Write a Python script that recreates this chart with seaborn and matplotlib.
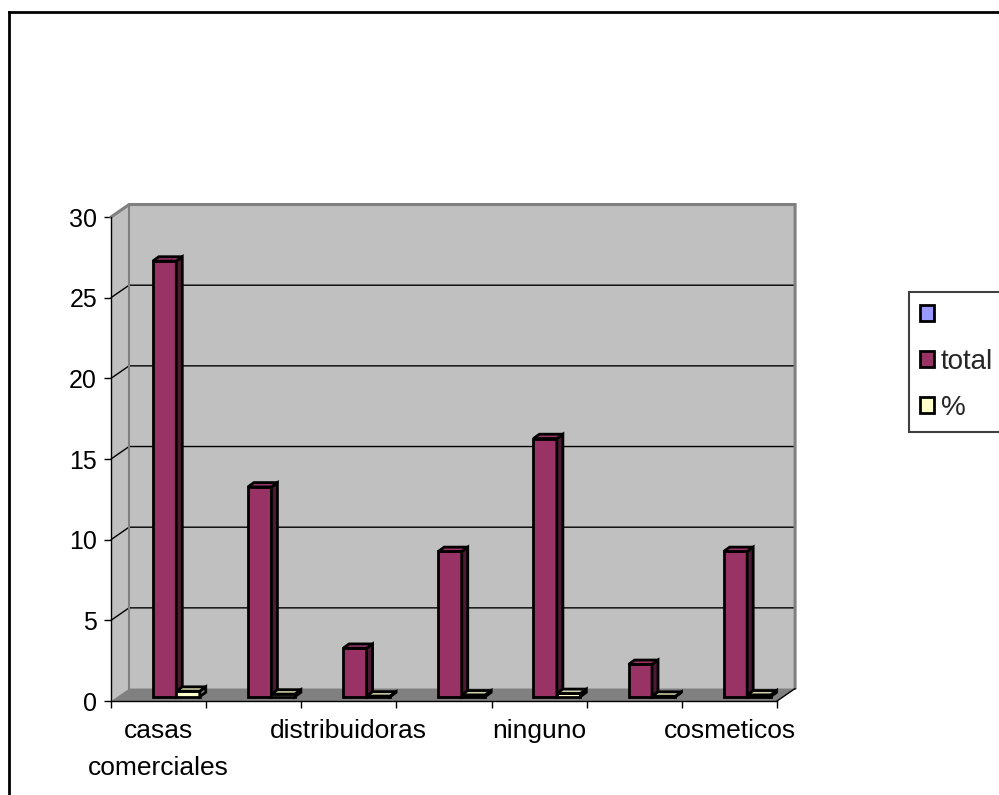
import matplotlib
matplotlib.use("Agg")
import matplotlib.pyplot as plt
import seaborn as sns
import pandas as pd
from matplotlib.patches import Polygon, Patch
from matplotlib.lines import Line2D
from matplotlib.colors import to_hex

# ---- data -------------------------------------------------------------
tick_labels = ["casas\ncomerciales", "", "distribuidoras", "", "ninguno", "", "cosmeticos"]
totals = [27, 13, 3, 9, 16, 2, 9]
percentages = [0.34, 0.16, 0.04, 0.11, 0.20, 0.03, 0.11]
series = ["", "total", "%"]
series_colors = ["#9999FF", "#993366", "#FFFFCC"]
y_ticks = [0, 5, 10, 15, 20, 25, 30]

cat_ids = list(range(len(tick_labels)))
df = pd.DataFrame({
    "cat": cat_ids * 2,
    "serie": ["total"] * len(totals) + ["%"] * len(percentages),
    "valor": totals + percentages,
})

# ---- style ------------------------------------------------------------
sns.set_theme(style="white")
plt.rcParams["font.family"] = ["Liberation Sans", "DejaVu Sans"]

fig = plt.figure(figsize=(9.99, 7.95), dpi=100)
fig.patch.set_facecolor("white")
ax = fig.add_axes([0.1111, 0.1182, 0.6667, 0.6088])

palette = dict(zip(series, series_colors))
sns.barplot(data=df, x="cat", y="valor", hue="serie", hue_order=series,
            order=cat_ids, palette=palette, width=0.74, saturation=1,
            errorbar=None, edgecolor="black", linewidth=2, legend=False, ax=ax)

ax.set_xlim(-0.5, len(cat_ids) - 0.5)
ax.set_ylim(0, 30)
ax.set_facecolor("none")
ax.set_xlabel("")
ax.set_ylabel("")

# ---- 3D box: walls and floor --------------------------------------------
wdx, wdy = 0.19, 0.775          # depth of the box (data units)
xl, xr = -0.5, len(cat_ids) - 0.5
wall_c, floor_c, edge_c = "#C0C0C0", "#808080", "#808080"

back = Polygon([(xl + wdx, wdy), (xr + wdx, wdy), (xr + wdx, 30 + wdy), (xl + wdx, 30 + wdy)],
               closed=True, facecolor=wall_c, edgecolor="none", zorder=0.5, clip_on=False)
side = Polygon([(xl, 0), (xl + wdx, wdy), (xl + wdx, 30 + wdy), (xl, 30)],
               closed=True, facecolor=wall_c, edgecolor="none", zorder=0.5, clip_on=False)
floor = Polygon([(xl, 0), (xr, 0), (xr + wdx, wdy), (xl + wdx, wdy)],
                closed=True, facecolor=floor_c, edgecolor="none", zorder=0.6, clip_on=False)
for p in (back, side, floor):
    ax.add_patch(p)

# grid lines on back and side walls
for v in y_ticks[1:-1]:
    ax.plot([xl, xl + wdx, xr + wdx], [v, v + wdy, v + wdy], color="black",
            lw=1, zorder=0.8, clip_on=False)
# wall borders
ax.plot([xl, xl + wdx, xr + wdx, xr + wdx], [30, 30 + wdy, 30 + wdy, wdy],
        color=edge_c, lw=2.2, zorder=0.9, clip_on=False, solid_joinstyle="miter")
ax.plot([xl + wdx, xl + wdx], [wdy, 30 + wdy], color=edge_c, lw=1.5, zorder=0.9, clip_on=False)
ax.plot([xr, xr + wdx], [0, wdy], color="black", lw=1, zorder=0.9, clip_on=False)

# ---- 3D bars ------------------------------------------------------------
bdx, bdy = 0.063, 0.27          # bar depth / placement inside the box
faces = {
    "total": ("#993366", "#4D1A33", "#993366", 3),
    "%": ("#FFFFCC", "#80806A", "#D0D0A8", 4),
}
color_to_series = {to_hex(c): s for s, c in palette.items()}
for bar in list(ax.patches):
    key = color_to_series.get(to_hex(bar.get_facecolor()))
    if key not in faces:
        continue
    front_c, side_c, top_c, z = faces[key]
    x0 = bar.get_x() + bdx
    w = bar.get_width()
    h = bar.get_height()
    bar.set_x(x0)
    bar.set_y(bdy)
    bar.set_zorder(z)
    bar.set_joinstyle("miter")
    x1 = x0 + w
    y0, y1 = bdy, bdy + h
    ax.add_patch(Polygon([(x1, y0), (x1 + bdx, y0 + bdy), (x1 + bdx, y1 + bdy), (x1, y1)],
                         closed=True, facecolor=side_c, edgecolor="black", lw=2,
                         joinstyle="miter", zorder=z, clip_on=False))
    ax.add_patch(Polygon([(x0, y1), (x1, y1), (x1 + bdx, y1 + bdy), (x0 + bdx, y1 + bdy)],
                         closed=True, facecolor=top_c, edgecolor="black", lw=2,
                         joinstyle="miter", zorder=z, clip_on=False))

# ---- axes, ticks --------------------------------------------------------
for s in ("top", "right"):
    ax.spines[s].set_visible(False)
for s in ("left", "bottom"):
    ax.spines[s].set_color("black")
    ax.spines[s].set_linewidth(1)
    ax.spines[s].set_zorder(5)

ax.set_yticks(y_ticks)
ax.set_yticklabels([str(v) for v in y_ticks])
ax.tick_params(axis="y", which="major", length=5, width=1, color="black",
               pad=5, labelsize=18, labelcolor="black", left=True)

# category names sit under each category; tick marks at category boundaries
ax.set_xticks(cat_ids)
ax.set_xticks([c - 0.5 for c in cat_ids] + [cat_ids[-1] + 0.5], minor=True)
ax.tick_params(axis="x", which="major", length=0, pad=13, labelsize=19, labelcolor="black")
ax.tick_params(axis="x", which="minor", length=5, width=1, color="black",
               direction="out", bottom=True)
ax.set_xticklabels(tick_labels, linespacing=1.68)

# ---- legend -------------------------------------------------------------
handles = [Patch(facecolor=c, edgecolor="black", linewidth=2) for c in series_colors]
leg = fig.legend(handles, series, loc="upper left",
                 bbox_to_anchor=(909 / 999, 1 - 292 / 795), bbox_transform=fig.transFigure,
                 frameon=True, fancybox=False, framealpha=1, facecolor="white",
                 edgecolor="#404040", fontsize=20, handlelength=0.5, handleheight=0.5,
                 handletextpad=0.25, labelspacing=0.72, borderpad=0.4, borderaxespad=0)
leg.get_frame().set_linewidth(1.5)

# ---- chart area border ----------------------------------------------------
fig.add_artist(Line2D([8.5 / 999, 8.5 / 999], [0, 1 - 12 / 795], color="black", lw=2,
                      transform=fig.transFigure, solid_capstyle="projecting"))
fig.add_artist(Line2D([8.5 / 999, 1], [1 - 12 / 795, 1 - 12 / 795], color="black", lw=2,
                      transform=fig.transFigure, solid_capstyle="projecting"))

fig.savefig("out.png", dpi=100, facecolor="white")
